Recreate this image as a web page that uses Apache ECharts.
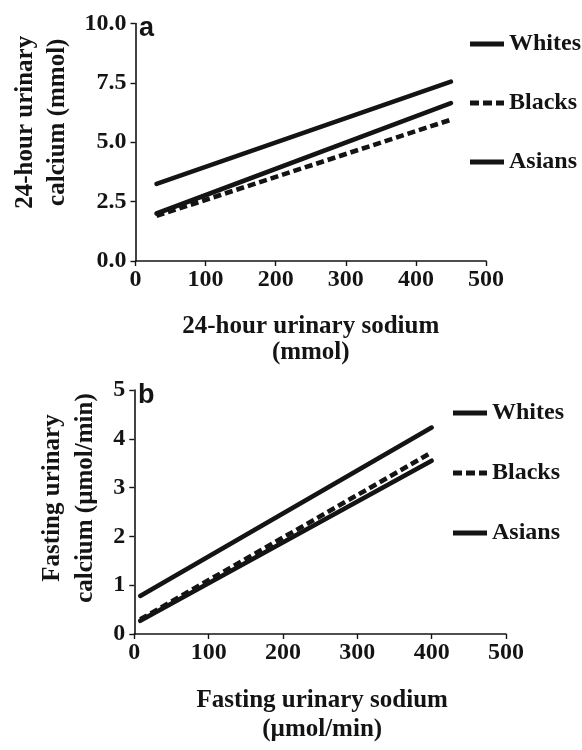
<!DOCTYPE html>
<html>
<head>
<meta charset="utf-8">
<script src="https://cdn.jsdelivr.net/npm/echarts@6/dist/echarts.min.js"></script>
<style>
  html, body { margin: 0; padding: 0; background: #fff; }
  #chart { width: 582px; height: 750px; }
</style>
</head>
<body>
<div id="chart"></div>
<script>
// ---- Data ----
const groups = ['Whites', 'Blacks', 'Asians'];

// Panel a: 24-hour urinary sodium (mmol) vs 24-hour urinary calcium (mmol)
const sodiumA = [30, 450];
const whitesA = [3.25, 7.55];
const blacksA = [1.9, 5.95];
const asiansA = [2.0, 6.65];

// Panel b: fasting urinary sodium (µmol/min) vs fasting urinary calcium (µmol/min)
const sodiumB = [8, 400];
const whitesB = [0.78, 4.23];
const blacksB = [0.3, 3.72];
const asiansB = [0.27, 3.55];

const xTicksA = [0, 500, 100];
const yTicksA = [0, 10, 2.5];
const xTicksB = [0, 500, 100];
const yTicksB = [0, 5, 1];

const SERIF = "'Liberation Serif', 'Times New Roman', serif";
const INK = '#141414';

function pairs(xs, ys) { return xs.map((x, i) => [x, ys[i]]); }

const axisCommon = {
  axisLine: { show: true, lineStyle: { color: INK, width: 1.6 } },
  axisTick: { show: true, inside: false, length: 5, lineStyle: { color: INK, width: 1.4 } },
  splitLine: { show: false },
  axisLabel: { color: INK, fontFamily: SERIF, fontWeight: 'bold', fontSize: 24 }
};

function lineSeries(name, idx, xs, ys, dashed) {
  return {
    name: name,
    type: 'line',
    xAxisIndex: idx,
    yAxisIndex: idx,
    data: pairs(xs, ys),
    symbol: 'none',
    silent: true,
    animation: false,
    itemStyle: { color: INK },
    lineStyle: {
      color: INK,
      width: 4.6,
      type: dashed ? [8, 4] : 'solid',
      cap: dashed ? 'butt' : 'round'
    }
  };
}

const DASH_ICON = 'path://M0,0h9v5h-9z M13,0h9v5h-9z M26,0h8v5h-8z';

function legendData() {
  return groups.map(g => ({ name: g, icon: g === 'Blacks' ? DASH_ICON : 'rect' }));
}

const legendCommon = {
  orient: 'vertical',
  itemWidth: 34,
  itemHeight: 5,
  padding: 0,
  selectedMode: false,
  itemStyle: { color: INK, borderWidth: 0 },
  textStyle: { color: INK, fontFamily: SERIF, fontWeight: 'bold', fontSize: 24, lineHeight: 24 }
};

const option = {
  backgroundColor: '#fff',
  animation: false,
  title: [
    { text: 'a', left: 139, top: 15, textStyle: { fontFamily: "'Liberation Sans', Arial, sans-serif", fontWeight: 'bold', fontSize: 27, color: INK, lineHeight: 27 }, padding: 0 },
    { text: 'b', left: 138, top: 382, textStyle: { fontFamily: "'Liberation Sans', Arial, sans-serif", fontWeight: 'bold', fontSize: 27, color: INK, lineHeight: 27 }, padding: 0 }
  ],
  legend: [
    Object.assign({}, legendCommon, { data: legendData(), left: 470, top: 32, itemGap: 35 }),
    Object.assign({}, legendCommon, { data: legendData(), left: 453, top: 401, itemGap: 36 })
  ],
  grid: [
    { left: 135.5, right: 96, top: 23.5, bottom: 489, containLabel: false },
    { left: 134.3, right: 76, top: 390, bottom: 116, containLabel: false }
  ],
  xAxis: [
    Object.assign({}, axisCommon, {
      gridIndex: 0, type: 'value', min: xTicksA[0], max: xTicksA[1], interval: xTicksA[2],
      axisLabel: Object.assign({}, axisCommon.axisLabel, { margin: 7 }),
      name: '24-hour urinary sodium\n(mmol)', nameLocation: 'middle', nameGap: 53,
      nameTextStyle: { color: INK, fontFamily: SERIF, fontWeight: 'bold', fontSize: 25, lineHeight: 26 }
    }),
    Object.assign({}, axisCommon, {
      gridIndex: 1, type: 'value', min: xTicksB[0], max: xTicksB[1], interval: xTicksB[2],
      axisLabel: Object.assign({}, axisCommon.axisLabel, { margin: 7 }),
      name: 'Fasting urinary sodium\n(\u00b5mol/min)', nameLocation: 'middle', nameGap: 52,
      nameTextStyle: { color: INK, fontFamily: SERIF, fontWeight: 'bold', fontSize: 25, lineHeight: 29, padding: [0, 0, 0, 4] }
    })
  ],
  yAxis: [
    Object.assign({}, axisCommon, {
      gridIndex: 0, type: 'value', min: yTicksA[0], max: yTicksA[1], interval: yTicksA[2],
      axisLabel: Object.assign({}, axisCommon.axisLabel, { margin: 9, padding: [0, 0, 8, 0], formatter: v => v.toFixed(1) }),
      name: '24-hour urinary\ncalcium (mmol)', nameLocation: 'middle', nameGap: 62, nameRotate: 90,
      nameTextStyle: { color: INK, fontFamily: SERIF, fontWeight: 'bold', fontSize: 25, lineHeight: 32, padding: [0, 0, 0, 40] }
    }),
    Object.assign({}, axisCommon, {
      gridIndex: 1, type: 'value', min: yTicksB[0], max: yTicksB[1], interval: yTicksB[2],
      axisLabel: Object.assign({}, axisCommon.axisLabel, { margin: 9, padding: [0, 0, 9, 0] }),
      name: 'Fasting urinary\ncalcium (\u00b5mol/min)', nameLocation: 'middle', nameGap: 27, nameRotate: 90,
      nameTextStyle: { color: INK, fontFamily: SERIF, fontWeight: 'bold', fontSize: 25, lineHeight: 33, padding: [0, 0, 0, 28] }
    })
  ],
  series: [
    lineSeries('Whites', 0, sodiumA, whitesA, false),
    lineSeries('Blacks', 0, sodiumA, blacksA, true),
    lineSeries('Asians', 0, sodiumA, asiansA, false),
    lineSeries('Whites', 1, sodiumB, whitesB, false),
    lineSeries('Blacks', 1, sodiumB, blacksB, true),
    lineSeries('Asians', 1, sodiumB, asiansB, false)
  ]
};

const chart = echarts.init(document.getElementById('chart'), null, { renderer: 'canvas' });
chart.setOption(option);
</script>
</body>
</html>
